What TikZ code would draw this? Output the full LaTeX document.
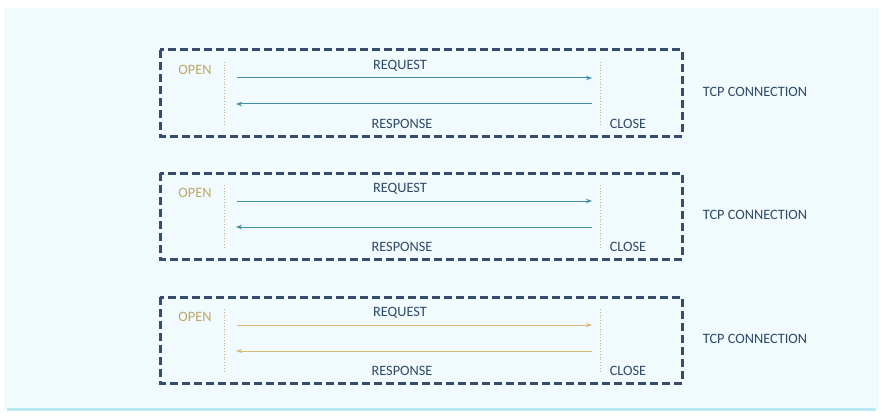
\documentclass[tikz,border=0pt]{standalone}
\usepackage{fontspec}
\setmainfont{Carlito}
\usetikzlibrary{arrows.meta}
\definecolor{bgpanel}{HTML}{F1FAFD}
\definecolor{bgline}{HTML}{B8EAF2}
\definecolor{boxcol}{HTML}{364C6E}
\definecolor{tealarr}{HTML}{3F8FA6}
\definecolor{goldarr}{HTML}{D6BC78}
\definecolor{opencol}{HTML}{BFA766}
\definecolor{txtcol}{HTML}{2F4A68}
\definecolor{dotcol}{HTML}{C2B48E}
\tikzset{
  connbox/.style={draw=boxcol, line width=3pt, dash pattern=on 8pt off 4pt},
  lbl/.style={font=\fontsize{14.3}{16}\selectfont, text=txtcol, inner sep=0pt},
  openlbl/.style={lbl, text=opencol},
  sepline/.style={draw=dotcol, line width=0.8pt, dotted},
  msg/.style={line width=1pt, -{Stealth[length=6pt,width=4.5pt]}}
}
\begin{document}
\begin{tikzpicture}[x=1pt,y=-1pt]
\useasboundingbox (0,0) rectangle (885,417);
\fill[white] (0,0) rectangle (885,417);
\fill[bgpanel] (4,8) rectangle (879,410);
\fill[bgline] (7,407.5) rectangle (876,411);
\foreach \i/\dy/\ac in {1/0/tealarr, 2/123/tealarr, 3/247/goldarr}{
  \begin{scope}[yshift=-\dy]
    \draw[connbox] (160,50) rectangle (682,136);
    \node[openlbl] (open\i) at (195,70) {OPEN};
    \node[lbl] (close\i) at (628,124) {CLOSE};
    \node[lbl] (tcp\i) at (755,92) {TCP CONNECTION};
    \coordinate (la\i) at (224,62);
    \coordinate (lb\i) at (224,124);
    \coordinate (ra\i) at (600,62);
    \coordinate (rb\i) at (600,124);
    \draw[sepline] (la\i) -- (lb\i);
    \draw[sepline] (ra\i) -- (rb\i);
    \coordinate (qs\i) at (237,78);
    \coordinate (qe\i) at (592,78);
    \coordinate (ps\i) at (592,104);
    \coordinate (pe\i) at (236,104);
    \draw[msg, draw=\ac, fill=\ac] (qs\i) -- (qe\i);
    \draw[msg, draw=\ac, fill=\ac] (ps\i) -- (pe\i);
    \node[lbl] (req\i) at (400,66) {REQUEST};
    \node[lbl] (resp\i) at (402,124) {RESPONSE};
  \end{scope}
}
\end{tikzpicture}
\end{document}
